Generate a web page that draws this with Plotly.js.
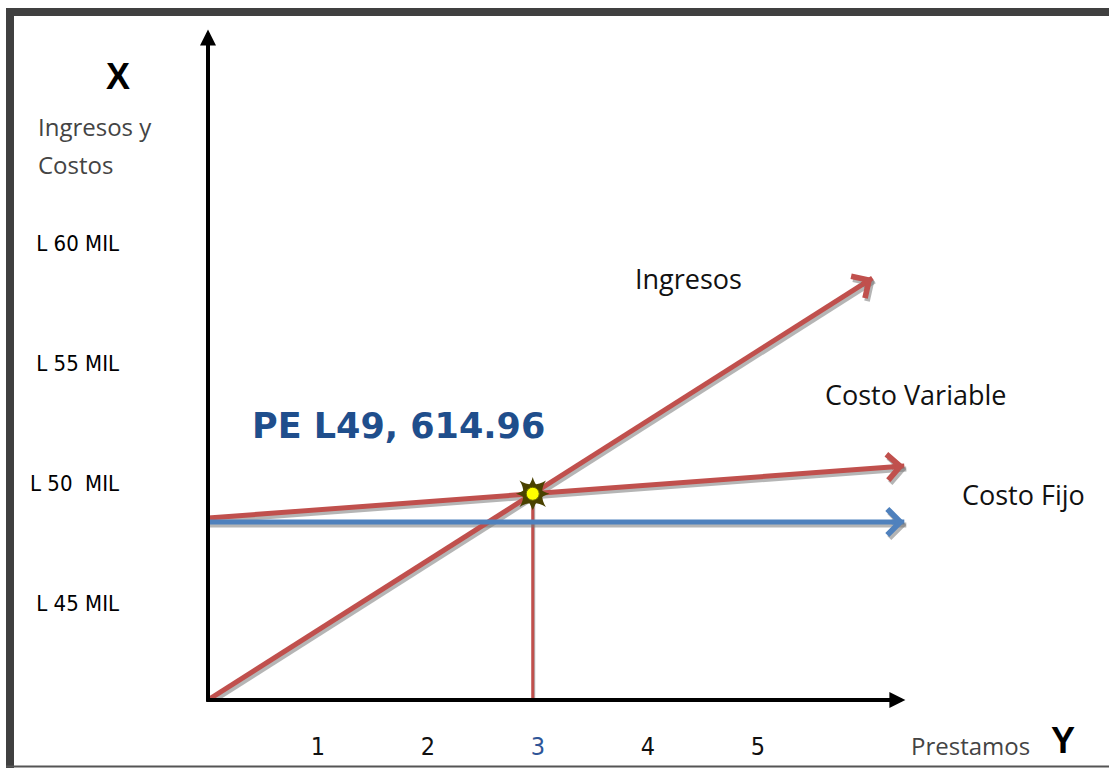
<!DOCTYPE html>
<html><head><meta charset="utf-8">
<script src="https://cdn.plot.ly/plotly-3.0.1.min.js"></script>
<style>html,body{margin:0;padding:0;background:#fff;} #chart{width:1109px;height:768px;}</style>
</head><body><div id="chart"></div>
<script>
// ---- Data (x: número de préstamos, y: miles de Lempiras) ----
const xTickVals = [1, 2, 3, 4, 5];
const xTickText = ["1", "2", "<span style='color:#2f5597'>3</span>", "4", "5"];
const yTickVals = [45, 50, 55, 60];
const yTickText = ["L 45 MIL", "L 50  MIL", "L 55 MIL", "L 60 MIL"];
const ingresosX = [0, 6.04];
const ingresosY = [40.96, 58.54];
const costoVarX = [0, 6.33];
const costoVarY = [48.54, 50.71];
const costoFijoX = [0, 6.33];
const costoFijoY = [48.38, 48.38];
const axisOrigin = [0, 40.96];
const axisXEnd = 6.34;
const axisYEnd = 68.9;
const peLabel = "PE L49, 614.96";
const seriesLabels = ["Ingresos", "Costo Variable", "Costo Fijo"];

// ---- Layout helpers (pixel placement only) ----
const PX_PER_X = 110, PX_PER_Y = 24;
const L = 208, T = 8, W = 897, H = 692;
const py2y = p => 52.5 + (423 - p) / PX_PER_Y;
const pxPaper = p => (p - L) / W;
const pyPaper = p => (T + H - p) / H;
const sdx = 2 / PX_PER_X, sdy = -3 / PX_PER_Y;

const RED = '#c0504d', BLUE = '#4f81bd', SHADOW = 'rgba(120,120,120,0.55)';

// break-even: intersection of Ingresos and Costo Variable
const sI = (ingresosY[1] - ingresosY[0]) / (ingresosX[1] - ingresosX[0]);
const sV = (costoVarY[1] - costoVarY[0]) / (costoVarX[1] - costoVarX[0]);
const peX = (costoVarY[0] - ingresosY[0]) / (sI - sV);
const peY = ingresosY[0] + sI * peX;

function shift(arr, d) { return arr.map(v => v + d); }
function lineTrace(x, y, color, width) {
  return {x: x, y: y, mode: 'lines', type: 'scatter', cliponaxis: false,
          line: {color: color, width: width}, hoverinfo: 'skip', showlegend: false};
}
const series = [
  {x: ingresosX, y: ingresosY, c: RED},
  {x: costoVarX, y: costoVarY, c: RED},
  {x: costoFijoX, y: costoFijoY, c: BLUE}
];
const traces = [];
traces.push(lineTrace([peX + sdx * 0.5, peX + sdx * 0.5], [axisOrigin[1], peY], SHADOW, 3));
traces.push(lineTrace([peX, peX], [axisOrigin[1], peY], RED, 3));
series.forEach(s => traces.push(lineTrace(shift(s.x, sdx), shift(s.y, sdy), SHADOW, 5)));
series.forEach(s => traces.push(lineTrace(s.x, s.y, s.c, 5)));
traces.push({x: [peX], y: [peY], mode: 'markers', type: 'scatter', cliponaxis: false, hoverinfo: 'skip', showlegend: false,
  marker: {symbol: 'star-square', size: 24, color: '#4a4200', line: {width: 0}}});
traces.push({x: [peX], y: [peY], mode: 'markers', type: 'scatter', cliponaxis: false, hoverinfo: 'skip', showlegend: false,
  marker: {symbol: 'star-diamond', size: 24, color: '#4a4200', line: {width: 0}}});
traces.push({x: [peX], y: [peY], mode: 'markers', type: 'scatter', cliponaxis: false, hoverinfo: 'skip', showlegend: false,
  marker: {symbol: 'circle', size: 13, color: '#ffff00', line: {width: 1, color: '#6b6b00'}}});

// ---- Annotations: arrow heads, axes, texts ----
const ann = [];
function headAnn(s, color, dx, dy) {
  const dxp = (s.x[1] - s.x[0]) * PX_PER_X, dyp = (s.y[1] - s.y[0]) * PX_PER_Y;
  const len = Math.sqrt(dxp * dxp + dyp * dyp);
  const f = 14 / len;
  const bx = s.x[1] - f * (s.x[1] - s.x[0]);
  const by = s.y[1] - f * (s.y[1] - s.y[0]);
  return {x: s.x[1] + dx, y: s.y[1] + dy, ax: bx + dx, ay: by + dy, xref: 'x', yref: 'y', axref: 'x', ayref: 'y',
          text: '', showarrow: true, arrowhead: 4, arrowwidth: 5, arrowsize: 1, arrowcolor: color};
}
series.forEach(s => ann.push(headAnn(s, SHADOW, sdx, sdy)));
series.forEach(s => ann.push(headAnn(s, s.c, 0, 0)));
ann.push({x: axisOrigin[0], y: axisYEnd, ax: axisOrigin[0], ay: axisOrigin[1] - 0.12, xref: 'x', yref: 'y', axref: 'x', ayref: 'y',
  text: '', showarrow: true, arrowhead: 2, arrowwidth: 4, arrowsize: 0.8, arrowcolor: '#000'});
ann.push({x: axisXEnd, y: axisOrigin[1], ax: axisOrigin[0] - 0.03, ay: axisOrigin[1], xref: 'x', yref: 'y', axref: 'x', ayref: 'y',
  text: '', showarrow: true, arrowhead: 2, arrowwidth: 4, arrowsize: 0.8, arrowcolor: '#000'});

const hand = 'Open Sans, DejaVu Sans, sans-serif';
function txt(t, px, py, size, color, xanchor, family) {
  return {x: pxPaper(px), y: pyPaper(py), xref: 'paper', yref: 'paper', text: t, showarrow: false,
          xanchor: xanchor || 'center', yanchor: 'middle',
          font: {family: family || hand, size: size, color: color}};
}
ann.push(txt('<b>X</b>', 118, 77, 36, '#000', 'center', 'Liberation Sans, Arial, sans-serif'));
ann.push(txt('Ingresos y', 36, 127, 24, '#444', 'left'));
ann.push(txt('Costos', 36, 164, 24, '#444', 'left'));
ann.push(txt(seriesLabels[0], 688, 278, 27, '#111'));
ann.push(txt(seriesLabels[1], 915, 394, 27, '#111'));
ann.push(txt(seriesLabels[2], 1023, 494, 27, '#111'));
ann.push(txt('Prestamos', 970, 745, 24, '#444'));
ann.push(txt('<b>Y</b>', 1063, 740, 36, '#000', 'center', 'Liberation Sans, Arial, sans-serif'));
ann.push(txt('<b>' + peLabel + '</b>', 250, 426, 35, '#1f4e8c', 'left', 'DejaVu Sans, sans-serif'));

// ---- Frame ----
const shapes = [
  {type: 'rect', xref: 'paper', yref: 'paper', x0: pxPaper(6), x1: pxPaper(1109), y0: pyPaper(16), y1: pyPaper(8),
   fillcolor: '#404040', line: {width: 0}},
  {type: 'rect', xref: 'paper', yref: 'paper', x0: pxPaper(6), x1: pxPaper(14), y0: pyPaper(768), y1: pyPaper(8),
   fillcolor: '#404040', line: {width: 0}},
  {type: 'line', xref: 'paper', yref: 'paper', x0: pxPaper(6), x1: pxPaper(1109), y0: pyPaper(766.5), y1: pyPaper(766.5),
   line: {color: '#555', width: 2}}
];

const layout = {
  width: 1109, height: 768,
  margin: {l: L, r: 1109 - L - W, t: T, b: 768 - T - H, pad: 0},
  paper_bgcolor: '#fff', plot_bgcolor: '#fff',
  showlegend: false, hovermode: false,
  xaxis: {range: [0, W / PX_PER_X], showgrid: false, zeroline: false, showline: false, ticks: '',
          tickmode: 'array', tickvals: xTickVals, ticktext: xTickText, ticklabelstandoff: 29,
          tickfont: {family: 'DejaVu Sans Condensed, Liberation Sans, sans-serif', size: 25, color: '#111'}, fixedrange: true},
  yaxis: {range: [py2y(T + H), py2y(T)], showgrid: false, zeroline: false, showline: false, ticks: '',
          tickmode: 'array', tickvals: yTickVals, ticktext: yTickText, ticklabelstandoff: 88,
          tickfont: {family: 'DejaVu Sans Condensed, Liberation Sans, sans-serif', size: 22, color: '#000'}, fixedrange: true},
  annotations: ann,
  shapes: shapes
};
Plotly.newPlot('chart', traces, layout, {displayModeBar: false, staticPlot: true});
</script>
</body></html>
